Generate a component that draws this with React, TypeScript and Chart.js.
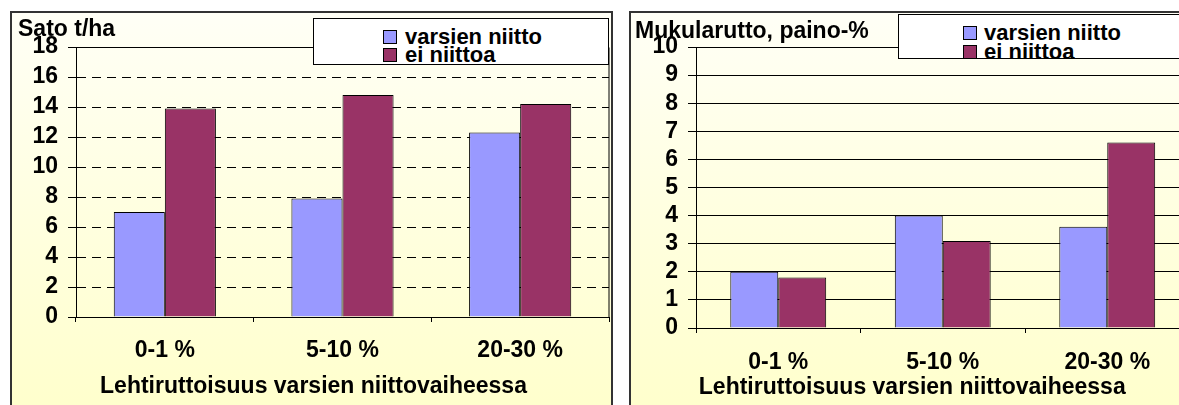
import React, { useEffect, useRef } from 'react';
import { Chart, registerables } from 'chart.js';

Chart.register(...registerables);

// ---- data ----
const categories = ['0-1 %', '5-10 %', '20-30 %'];
const seriesNames = ['varsien niitto', 'ei niittoa'];
const yieldCut = [7.0, 7.9, 12.3];
const yieldNoCut = [13.9, 14.8, 14.2];
const blightCut = [2.0, 4.0, 3.6];
const blightNoCut = [1.8, 3.1, 6.6];
const yieldScale = [0, 18, 2]; // min, max, step
const blightScale = [0, 10, 1];
const yieldLabel = 'Sato t/ha';
const blightLabel = 'Mukularutto, paino-%';
const xTitle = 'Lehtiruttoisuus varsien niittovaiheessa';

const BLUE = '#9999FF';
const MAROON = '#993366';
const FONT = "'Liberation Sans', Arial, Helvetica, sans-serif";

const plotFrame = {
  id: 'plotFrame',
  beforeDatasetsDraw(chart: any) {
    const { ctx, chartArea } = chart;
    ctx.save();
    ctx.strokeStyle = '#000';
    ctx.lineWidth = 1;
    ctx.setLineDash([]);
    ctx.beginPath();
    ctx.moveTo(chartArea.left, chartArea.top + 0.5);
    ctx.lineTo(chartArea.right, chartArea.top + 0.5);
    ctx.lineTo(chartArea.right, chartArea.bottom);
    ctx.stroke();
    ctx.restore();
  },
};

type PanelProps = {
  width: number;
  height: number;
  a: number[];
  b: number[];
  scale: number[];
  yLabel: string;
  dashed: boolean;
  pad: { left: number; right: number };
  yWidth: number;
  xHeight: number;
  subPad: { top: number; bottom: number };
  titlePad: { top: number; bottom: number };
  xTickPad: number;
  catPct: number;
  style: React.CSSProperties;
};

function BarPanel(p: PanelProps) {
  const ref = useRef<HTMLCanvasElement | null>(null);
  useEffect(() => {
    if (!ref.current) return;
    const chart = new Chart(ref.current, {
      type: 'bar',
      data: {
        labels: categories,
        datasets: [
          {
            label: seriesNames[0],
            data: p.a,
            backgroundColor: BLUE,
            borderColor: '#000',
            borderWidth: 1,
            categoryPercentage: p.catPct,
            barPercentage: 1,
          },
          {
            label: seriesNames[1],
            data: p.b,
            backgroundColor: MAROON,
            borderColor: '#000',
            borderWidth: 1,
            categoryPercentage: p.catPct,
            barPercentage: 1,
          },
        ],
      },
      options: {
        responsive: false,
        animation: false,
        devicePixelRatio: 1,
        layout: { padding: { left: p.pad.left, right: p.pad.right, top: 0, bottom: 0 } },
        plugins: {
          legend: { display: false },
          tooltip: { enabled: false },
          subtitle: {
            display: true,
            text: p.yLabel,
            align: 'start',
            color: '#000',
            font: { family: FONT, size: 23, weight: 'bold', lineHeight: 1 },
            padding: p.subPad,
          },
          title: {
            display: true,
            position: 'bottom',
            text: xTitle,
            color: '#000',
            font: { family: FONT, size: 23, weight: 'bold', lineHeight: 1 },
            padding: p.titlePad,
          },
        },
        scales: {
          x: {
            afterFit: (s: any) => {
              s.height = p.xHeight;
            },
            grid: {
              display: true,
              drawOnChartArea: false,
              drawTicks: true,
              tickLength: 5,
              color: '#000',
              tickColor: '#000',
            },
            border: { display: true, color: '#000', width: 1 },
            ticks: {
              color: '#000',
              padding: p.xTickPad,
              font: { family: FONT, size: 23, weight: 'bold', lineHeight: 1 },
              maxRotation: 0,
              autoSkip: false,
            },
          },
          y: {
            min: p.scale[0],
            max: p.scale[1],
            afterFit: (s: any) => {
              s.width = p.yWidth;
            },
            grid: {
              color: '#000',
              lineWidth: 1,
              drawTicks: true,
              tickLength: 8,
              tickColor: '#000',
            },
            border: { display: true, color: '#000', width: 1, dash: p.dashed ? [9, 6] : [] },
            ticks: {
              stepSize: p.scale[2],
              autoSkip: false,
              color: '#000',
              padding: 10,
              font: { family: FONT, size: 23, weight: 'bold', lineHeight: 1 },
            },
          },
        },
      },
      plugins: [plotFrame],
    } as any);
    return () => chart.destroy();
  }, []);
  return (
    <canvas
      ref={ref}
      width={p.width}
      height={p.height}
      style={{ position: 'absolute', width: p.width, height: p.height, ...p.style }}
    />
  );
}

function LegendBox(props: {
  left: number;
  top: number;
  width: number;
  height: number;
  padTop: number;
  lineH: number;
  swatchX: number;
  textX: number;
}) {
  const colors = [BLUE, MAROON];
  return (
    <div
      style={{
        position: 'absolute',
        left: props.left,
        top: props.top,
        width: props.width,
        height: props.height,
        boxSizing: 'border-box',
        border: '1px solid #000',
        background: '#fff',
        overflow: 'hidden',
        paddingTop: props.padTop,
        fontFamily: FONT,
        fontWeight: 'bold',
        fontSize: 22,
        color: '#000',
      }}
    >
      {seriesNames.map((n, i) => (
        <div key={n} style={{ position: 'relative', height: props.lineH, lineHeight: props.lineH + 'px' }}>
          <span
            style={{
              position: 'absolute',
              left: props.swatchX,
              top: (props.lineH - 14) / 2,
              width: 12,
              height: 12,
              border: '1px solid #000',
              background: colors[i],
            }}
          />
          <span style={{ position: 'absolute', left: props.textX, top: 0, whiteSpace: 'nowrap' }}>{n}</span>
        </div>
      ))}
    </div>
  );
}

export default function App() {
  const panelBg = 'linear-gradient(to bottom, #FFFFF6 0%, #FFFFE2 45%, #FFFFCC 100%)';
  return (
    <div
      style={{
        position: 'fixed',
        left: 0,
        top: 0,
        width: 1179,
        height: 405,
        overflow: 'hidden',
        background: '#fff',
      }}
    >
      <div
        style={{
          position: 'absolute',
          left: 10,
          top: 11,
          width: 603,
          height: 400,
          boxSizing: 'border-box',
          borderTop: '2px solid #333',
          borderLeft: '2px solid #333',
          borderRight: '2px solid #333',
          background: panelBg,
        }}
      />
      <div
        style={{
          position: 'absolute',
          left: 629,
          top: 11,
          width: 600,
          height: 400,
          boxSizing: 'border-box',
          borderTop: '2px solid #333',
          borderLeft: '2px solid #333',
          background: panelBg,
        }}
      />
      <BarPanel
        width={602}
        height={393}
        a={yieldCut}
        b={yieldNoCut}
        scale={yieldScale}
        yLabel={yieldLabel}
        dashed={true}
        pad={{ left: 8, right: 3 }}
        yWidth={58}
        xHeight={58.5}
        subPad={{ top: 6.5, bottom: 5.5 }}
        titlePad={{ top: 0, bottom: 6.5 }}
        xTickPad={17.5}
        catPct={0.575}
        style={{ left: 10, top: 12 }}
      />
      <BarPanel
        width={571}
        height={393}
        a={blightCut}
        b={blightNoCut}
        scale={blightScale}
        yLabel={blightLabel}
        dashed={false}
        pad={{ left: 5, right: 11.5 }}
        yWidth={61}
        xHeight={48.5}
        subPad={{ top: 8.5, bottom: 3.5 }}
        titlePad={{ top: 0, bottom: 5.5 }}
        xTickPad={18.5}
        catPct={0.583}
        style={{ left: 630, top: 12 }}
      />
      <LegendBox left={313} top={18} width={296} height={47} padTop={9} lineH={18} swatchX={69} textX={91} />
      <LegendBox left={898} top={14} width={320} height={45} padTop={8} lineH={19} swatchX={64} textX={85} />
    </div>
  );
}
